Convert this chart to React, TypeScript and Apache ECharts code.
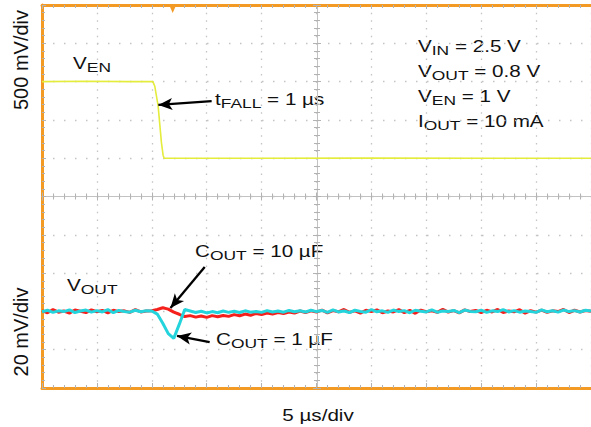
import { useEffect, useRef } from 'react';
import * as echarts from 'echarts';

const FONT = '"Liberation Sans", Arial, Helvetica, sans-serif';
const ORANGE = '#f39a24';
const GRID_GRAY = '#c4c4c4';
const TICK_GRAY = '#b2b2b2';
const TEXT_STRETCH = 1.29;

// Time axis: 5 µs/div, 10 divisions
const timeMin = 0;
const timeMax = 50;
const timeDiv = 5;
// VEN axis: 500 mV/div
const venMin = -3;
const venMax = 2;
const venDiv = 0.5;
// VOUT axis: 20 mV/div (mV)
const voutMin = 760;
const voutMax = 960;

// VEN trace (µs, V)
const venTime = [0, 4, 8, 10.1, 10.27, 10.57, 10.88, 11.03, 11.12, 20, 30, 40, 50];
const venVolt = [1.0, 1.005, 1.0, 1.0, 0.94, 0.69, 0.2, 0.04, 0.0, 0.0, 0.003, 0.0, 0.0];

// VOUT traces sampled every 0.5 µs (mV)
const voutStep = 0.5;
const vout10uF = [
  800.4, 799.3, 800.9, 799.6, 800.2, 799.1, 800.7, 800.1, 799.4, 800.8,
  799.8, 800.5, 799.2, 800.6, 799.9, 800.3, 799.5, 800.9, 799.7, 800.2,
  800.3, 801.0, 801.9, 801.2, 799.6, 798.5, 797.3, 797.8, 797.0, 797.6,
  796.9, 797.8, 797.2, 797.9, 797.4, 798.3, 797.7, 798.6, 798.0, 798.9,
  798.3, 799.1, 798.6, 799.4, 798.9, 799.7, 799.1, 800.2, 799.4, 800.3,
  799.6, 800.7, 799.2, 800.4, 799.8, 801.0, 799.5, 800.3, 799.1, 800.6,
  799.9, 800.8, 799.3, 800.2, 799.7, 800.9, 799.4, 800.5, 799.0, 800.7,
  799.8, 800.3, 799.5, 801.1, 799.6, 800.4, 799.2, 800.8, 799.9, 800.5,
  799.3, 800.6, 799.7, 801.0, 799.4, 800.2, 799.8, 800.9, 799.1, 800.4,
  799.6, 800.7, 799.5, 800.3, 799.9, 801.0, 799.4, 800.6, 799.7, 800.5,
  800.1,
];
const vout1uF = [
  799.8, 800.6, 799.5, 800.3, 799.9, 800.8, 799.4, 800.2, 800.7, 799.6,
  800.4, 799.7, 800.9, 799.3, 800.5, 800.0, 799.6, 800.6, 799.8, 800.3,
  800.2, 798.6, 793.8, 788.4, 785.9, 793.2, 801.0, 800.2, 799.4, 800.1,
  799.2, 799.9, 799.3, 800.2, 799.5, 800.1, 799.4, 800.3, 799.6, 800.0,
  799.5, 800.4, 799.7, 800.2, 799.6, 800.5, 799.8, 800.3, 799.7, 800.6,
  799.9, 800.5, 799.5, 800.8, 799.7, 800.2, 799.4, 800.6, 800.0, 799.6,
  800.9, 799.8, 800.3, 799.5, 800.7, 799.9, 800.4, 799.3, 800.6, 800.1,
  799.7, 800.8, 799.6, 800.2, 799.9, 800.5, 799.4, 800.7, 800.0, 799.8,
  800.6, 799.5, 800.3, 799.9, 800.9, 799.7, 800.4, 799.6, 800.2, 800.0,
  799.5, 800.8, 799.8, 800.3, 799.6, 800.7, 799.9, 800.4, 799.7, 800.6,
  800.2,
];

// Annotation arrows: [tail, tip] in data coordinates
const tFallArrow = [[15.45, 0.745], [10.6, 0.695]];
const c10Arrow = [[14.82, 823.2], [11.7, 801.8]];
const c1Arrow = [[15.27, 784.0], [12.3, 787.2]];
const triggerTime = 11.9;

// Text labels: [main, subscript, rest]
const venLabel = ['V', 'EN', ''];
const voutLabel = ['V', 'OUT', ''];
const tFallLabel = ['t', 'FALL', ' = 1 µs'];
const c10Label = ['C', 'OUT', ' = 10 µF'];
const c1Label = ['C', 'OUT', ' = 1 µF'];
const conditionLabels = [
  ['V', 'IN', ' = 2.5 V'],
  ['V', 'OUT', ' = 0.8 V'],
  ['V', 'EN', ' = 1 V'],
  ['I', 'OUT', ' = 10 mA'],
];
const yTopTitle = '500 mV/div';
const yBottomTitle = '20 mV/div';
const xTitle = '5 µs/div';

const rich = {
  m: { fontSize: 16, fontFamily: FONT, lineHeight: 22, fill: '#111' },
  s: { fontSize: 13.5, fontFamily: FONT, lineHeight: 14, verticalAlign: 'bottom', fill: '#111' },
};

function richText(parts: string[]) {
  let t = `{m|${parts[0]}}{s|${parts[1]}}`;
  if (parts[2]) t += `{m|${parts[2]}}`;
  return t;
}

function label(parts: string[], x: number, y: number) {
  return {
    type: 'text',
    x,
    y,
    scaleX: TEXT_STRETCH,
    silent: true,
    style: { text: richText(parts), rich, align: 'left', verticalAlign: 'middle', fill: '#111' },
  };
}

function arrowMark(arrow: number[][]) {
  return [
    { coord: arrow[0], symbol: 'none' },
    { coord: arrow[1], symbol: 'arrow', symbolSize: [9, 14] },
  ];
}

export default function App() {
  const ref = useRef<HTMLDivElement>(null);
  useEffect(() => {
    if (!ref.current) return;
    const chart = echarts.init(ref.current, undefined, { renderer: 'svg' });
    const xBase = { type: 'value', min: timeMin, max: timeMax, interval: timeDiv, axisLabel: { show: false } };
    const yBase = { type: 'value', min: venMin, max: venMax, interval: venDiv, axisLabel: { show: false } };
    const option: any = {
      animation: false,
      backgroundColor: '#ffffff',
      grid: { left: 42, top: 5, width: 550, height: 383, containLabel: false },
      xAxis: [
        {
          ...xBase,
          position: 'bottom',
          axisLine: { show: true, onZero: false, lineStyle: { color: ORANGE, width: 3 } },
          axisTick: { show: true, inside: true, length: 5, lineStyle: { color: TICK_GRAY } },
          minorTick: { show: true, splitNumber: 5, length: 3, lineStyle: { color: TICK_GRAY } },
          splitLine: { show: true, lineStyle: { color: GRID_GRAY, width: 1.3, type: [1.5, 6.16] } },
        },
        {
          ...xBase,
          position: 'top',
          axisLine: { show: true, onZero: false, lineStyle: { color: ORANGE, width: 3 } },
          axisTick: { show: true, inside: true, length: 4, lineStyle: { color: TICK_GRAY } },
          minorTick: { show: true, splitNumber: 5, length: 3, lineStyle: { color: TICK_GRAY } },
          splitLine: { show: false },
        },
        {
          ...xBase,
          position: 'bottom',
          offset: -191.5,
          axisLine: { show: true, onZero: false, lineStyle: { color: '#c2c2c2', width: 1 } },
          axisTick: { show: true, inside: true, length: 4, lineStyle: { color: TICK_GRAY } },
          minorTick: { show: true, splitNumber: 5, length: 3, lineStyle: { color: TICK_GRAY } },
          splitLine: { show: false },
        },
        {
          ...xBase,
          position: 'bottom',
          offset: -191.5,
          axisLine: { show: false, onZero: false },
          axisTick: { show: true, inside: false, length: 4, lineStyle: { color: TICK_GRAY } },
          minorTick: { show: true, splitNumber: 5, length: 3, lineStyle: { color: TICK_GRAY } },
          splitLine: { show: false },
        },
      ],
      yAxis: [
        {
          ...yBase,
          position: 'left',
          axisLine: { show: true, onZero: false, lineStyle: { color: ORANGE, width: 3 } },
          axisTick: { show: true, inside: true, length: 4, lineStyle: { color: TICK_GRAY } },
          minorTick: { show: true, splitNumber: 5, length: 3, lineStyle: { color: TICK_GRAY } },
          splitLine: { show: true, lineStyle: { color: GRID_GRAY, width: 1.3, type: [1.5, 9.5] } },
        },
        { type: 'value', min: voutMin, max: voutMax, show: false },
        {
          ...yBase,
          position: 'left',
          offset: -275,
          axisLine: { show: true, onZero: false, lineStyle: { color: '#c2c2c2', width: 1 } },
          axisTick: { show: true, inside: true, length: 4, lineStyle: { color: TICK_GRAY } },
          minorTick: { show: true, splitNumber: 5, length: 3, lineStyle: { color: TICK_GRAY } },
          splitLine: { show: false },
        },
        {
          ...yBase,
          position: 'left',
          offset: -275,
          axisLine: { show: false, onZero: false },
          axisTick: { show: true, inside: false, length: 4, lineStyle: { color: TICK_GRAY } },
          minorTick: { show: true, splitNumber: 5, length: 3, lineStyle: { color: TICK_GRAY } },
          splitLine: { show: false },
        },
      ],
      series: [
        {
          name: 'VEN',
          type: 'line',
          xAxisIndex: 0,
          yAxisIndex: 0,
          data: venTime.map((t, i) => [t, venVolt[i]]),
          showSymbol: false,
          symbol: 'none',
          lineStyle: { color: '#e4ec3c', width: 1.6 },
          markPoint: {
            silent: true,
            label: { show: false },
            data: [
              {
                coord: [triggerTime, venMax],
                symbol: 'triangle',
                symbolRotate: 180,
                symbolSize: [7, 8],
                symbolOffset: [0, 4],
                itemStyle: { color: ORANGE },
              },
            ],
          },
          markLine: {
            silent: true,
            animation: false,
            label: { show: false },
            lineStyle: { color: '#000', width: 2.3, type: 'solid' },
            data: [arrowMark(tFallArrow)],
          },
        },
        {
          name: 'VOUT 10uF',
          type: 'line',
          xAxisIndex: 0,
          yAxisIndex: 1,
          data: vout10uF.map((v, i) => [i * voutStep, v]),
          showSymbol: false,
          symbol: 'none',
          lineStyle: { color: '#f5201c', width: 3 },
        },
        {
          name: 'VOUT 1uF',
          type: 'line',
          xAxisIndex: 0,
          yAxisIndex: 1,
          data: vout1uF.map((v, i) => [i * voutStep, v]),
          showSymbol: false,
          symbol: 'none',
          lineStyle: { color: '#24d4dc', width: 3 },
          markLine: {
            silent: true,
            animation: false,
            label: { show: false },
            lineStyle: { color: '#000', width: 2.3, type: 'solid' },
            data: [arrowMark(c10Arrow), arrowMark(c1Arrow)],
          },
        },
      ],
      graphic: [
        {
          type: 'text',
          x: 21,
          y: 60,
          rotation: Math.PI / 2,
          silent: true,
          style: { text: yTopTitle, fontSize: 20, fontFamily: FONT, fill: '#111', align: 'center', verticalAlign: 'middle' },
        },
        {
          type: 'text',
          x: 21,
          y: 332,
          rotation: Math.PI / 2,
          silent: true,
          style: { text: yBottomTitle, fontSize: 20, fontFamily: FONT, fill: '#111', align: 'center', verticalAlign: 'middle' },
        },
        {
          type: 'text',
          x: 318,
          y: 415,
          scaleX: TEXT_STRETCH,
          silent: true,
          style: { text: xTitle, fontSize: 16, fontFamily: FONT, fill: '#111', align: 'center', verticalAlign: 'middle' },
        },
        label(venLabel, 73, 63.5),
        label(voutLabel, 67, 285),
        label(tFallLabel, 215, 99),
        label(c10Label, 195, 251.5),
        label(c1Label, 216, 339),
        ...conditionLabels.map((p, i) => label(p, 418, 46 + i * 25)),
      ],
    };
    chart.setOption(option);
    return () => chart.dispose();
  }, []);
  return <div ref={ref} style={{ position: 'absolute', left: 0, top: 0, width: 591, height: 427 }} />;
}
